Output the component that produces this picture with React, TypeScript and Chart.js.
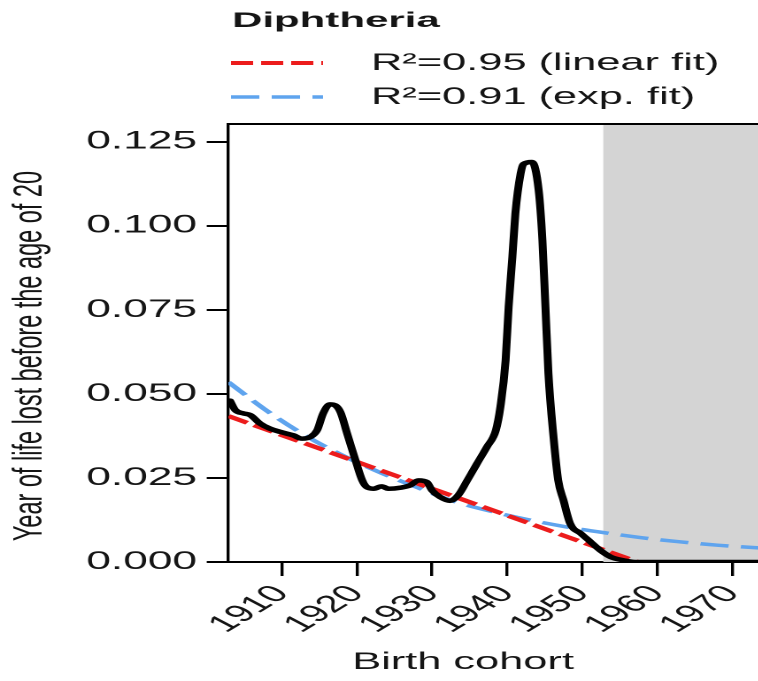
import React, { useEffect, useRef } from 'react';
import { Chart, registerables } from 'chart.js';

Chart.register(...registerables);

// The figure is laid out in a narrow frame and widened horizontally as a whole.
const STRETCH = 1.77;
const VIEW_W = 758;
const VIEW_H = 681;
const FONT = '"Liberation Sans", Arial, Helvetica, sans-serif';
const INK = '#151515';

// horizontal page distance -> canvas units
const hx = (d: number) => d / STRETCH;

// Years of life lost before age 20, by birth cohort
const cohortYears = [
  1903.1, 1903.8, 1904.9, 1905.8, 1907.1, 1908.4, 1909.8, 1911.5, 1912.7, 1913.8,
  1914.7, 1915.5, 1916.4, 1917.1, 1917.8, 1918.7, 1919.8, 1920.7, 1921.3, 1922.2,
  1923.3, 1924.2, 1925.8, 1927.1, 1928.2, 1929.3, 1930.0, 1931.1, 1932.4, 1933.5,
  1934.7, 1936.0, 1937.3, 1938.5, 1939.1, 1939.8, 1940.2, 1940.7, 1941.1, 1941.8,
  1942.2, 1943.3, 1944.2, 1944.7, 1945.1, 1945.5, 1946.2, 1946.8, 1947.5, 1948.4,
  1949.8, 1951.1, 1952.4, 1953.8, 1955.5, 1957.0, 1975.0,
];
const yllValues = [
  0.0480, 0.0452, 0.0442, 0.0437, 0.0412, 0.0397, 0.0387, 0.0377, 0.0367, 0.0372,
  0.0392, 0.0442, 0.0469, 0.0466, 0.0446, 0.0382, 0.0303, 0.0243, 0.0223, 0.0218,
  0.0225, 0.0218, 0.0221, 0.0228, 0.0243, 0.0238, 0.0213, 0.0193, 0.0182, 0.0199,
  0.0243, 0.0293, 0.0342, 0.0392, 0.0461, 0.0600, 0.0759, 0.0908, 0.1037, 0.1156,
  0.1184, 0.1190, 0.1106, 0.0957, 0.0759, 0.0561, 0.0367, 0.0243, 0.0184, 0.0114,
  0.0085, 0.0060, 0.0035, 0.0015, 0.0005, 0.0000, 0.0000,
];

// Linear fit
const linearFitYears = [1902.9, 1957.4];
const linearFitValues = [0.0434, 0.0];

// Exponential fit
const expFitYears = [
  1902.9, 1908, 1913, 1918, 1923, 1928, 1933, 1938, 1943, 1948, 1953, 1958, 1963, 1968, 1975,
];
const expFitValues = [
  0.0535, 0.0450, 0.0378, 0.0318, 0.0267, 0.0222, 0.0180, 0.0150, 0.0125, 0.0104, 0.0087,
  0.0072, 0.0060, 0.0050, 0.0040,
];

const xTickValues = [1910, 1920, 1930, 1940, 1950, 1960, 1970];
const yTickValues = [0, 0.025, 0.05, 0.075, 0.1, 0.125];
const X_MIN = 1902.9;
const X_MAX = 1975;
const Y_MIN = 0;
const Y_MAX = 0.1303;
const shadeStart = 1952.8;

const chartTitle = 'Diphtheria';
const fitLabels = ['R\u00B2=0.95 (linear fit)', 'R\u00B2=0.91 (exp. fit)'];

const RED = '#ec1c1c';
const BLUE = '#5fa4ee';

// frame geometry
const PLOT_TOP = 124;
const PLOT_BOTTOM = 562;
const Y_AXIS_W = hx(228.5);
const CANVAS_W = Math.round(Y_AXIS_W + (X_MAX - X_MIN) * hx(7.5));

const shadePlugin = {
  id: 'cohortShade',
  beforeDatasetsDraw(chart: any) {
    const { ctx, chartArea, scales } = chart;
    const x0 = scales.x.getPixelForValue(shadeStart);
    ctx.save();
    ctx.fillStyle = '#d4d4d4';
    ctx.fillRect(x0, chartArea.top, chartArea.right - x0, chartArea.bottom - chartArea.top);
    ctx.restore();
  },
  afterDatasetsDraw(chart: any) {
    const { ctx, chartArea } = chart;
    ctx.save();
    ctx.strokeStyle = '#000';
    ctx.lineWidth = 2;
    ctx.beginPath();
    ctx.moveTo(chartArea.left - 0.8, chartArea.top);
    ctx.lineTo(chartArea.right, chartArea.top);
    ctx.stroke();
    ctx.restore();
  },
};

const headerPlugin = {
  id: 'fitHeader',
  afterDraw(chart: any) {
    const { ctx } = chart;
    ctx.save();
    ctx.fillStyle = INK;
    ctx.textBaseline = 'alphabetic';
    ctx.textAlign = 'left';

    // panel title, set a little wider than the body text
    ctx.save();
    ctx.translate(hx(232), 27);
    ctx.scale(1.13, 1);
    ctx.font = `bold 21px ${FONT}`;
    ctx.fillText(chartTitle, 0, 0);
    ctx.restore();

    const rows = [
      { ds: chart.data.datasets[1], label: fitLabels[0], y: 63 },
      { ds: chart.data.datasets[2], label: fitLabels[1], y: 97 },
    ];
    rows.forEach((r) => {
      ctx.save();
      ctx.strokeStyle = r.ds.borderColor;
      ctx.lineWidth = r.ds.borderWidth;
      ctx.setLineDash(r.ds.borderDash);
      ctx.beginPath();
      ctx.moveTo(hx(231), r.y);
      ctx.lineTo(hx(323), r.y);
      ctx.stroke();
      ctx.restore();
      ctx.font = `24.5px ${FONT}`;
      ctx.textBaseline = 'middle';
      ctx.fillText(r.label, hx(371), r.y);
    });
    ctx.restore();
  },
};

export default function App() {
  const canvasRef = useRef<HTMLCanvasElement | null>(null);

  useEffect(() => {
    const canvas = canvasRef.current;
    if (!canvas) return;
    const toPoints = (xs: number[], ys: number[]) => xs.map((x, i) => ({ x, y: ys[i] }));

    const chart = new Chart(canvas, {
      type: 'line',
      data: {
        datasets: [
          {
            label: 'Diphtheria',
            data: toPoints(cohortYears, yllValues),
            borderColor: '#000',
            borderWidth: 4.5,
            pointRadius: 0,
            cubicInterpolationMode: 'monotone',
            borderJoinStyle: 'round',
            borderCapStyle: 'round',
          },
          {
            label: fitLabels[0],
            data: toPoints(linearFitYears, linearFitValues),
            borderColor: RED,
            borderWidth: 4,
            borderDash: [12.5, 4.5],
            pointRadius: 0,
          },
          {
            label: fitLabels[1],
            data: toPoints(expFitYears, expFitValues),
            borderColor: BLUE,
            borderWidth: 3.5,
            borderDash: [16, 7],
            pointRadius: 0,
            cubicInterpolationMode: 'monotone',
          },
        ],
      } as any,
      options: {
        animation: false,
        responsive: false,
        devicePixelRatio: 2,
        parsing: false as any,
        layout: { padding: { top: PLOT_TOP, left: 0, right: 0, bottom: 0 } },
        plugins: { legend: { display: false }, tooltip: { enabled: false } },
        scales: {
          x: {
            type: 'linear',
            min: X_MIN,
            max: X_MAX,
            afterBuildTicks: (s: any) => {
              s.ticks = xTickValues.map((value) => ({ value }));
            },
            afterFit: (s: any) => {
              s.height = VIEW_H - PLOT_BOTTOM;
              s.paddingLeft = 0;
              s.paddingRight = 0;
            },
            ticks: {
              autoSkip: false,
              minRotation: 47,
              maxRotation: 47,
              padding: 4,
              color: INK,
              font: { family: FONT, size: 24 },
              callback: (v: any) => String(v),
            },
            grid: { drawOnChartArea: false, drawTicks: true, tickLength: 14, color: '#000', lineWidth: 1.7 },
            border: { display: true, color: '#000', width: 2 },
            title: {
              display: true,
              text: 'Birth cohort      ',
              color: INK,
              font: { family: FONT, size: 24.5 },
              padding: { top: 0, bottom: 4 },
            },
          },
          y: {
            type: 'linear',
            min: Y_MIN,
            max: Y_MAX,
            afterBuildTicks: (s: any) => {
              s.ticks = yTickValues.map((value) => ({ value }));
            },
            afterFit: (s: any) => {
              s.width = Y_AXIS_W;
              s.paddingTop = 0;
              s.paddingBottom = 0;
            },
            ticks: {
              padding: 5.5,
              color: INK,
              font: { family: FONT, size: 25 },
              callback: (v: any) => Number(v).toFixed(3),
            },
            grid: { drawOnChartArea: false, drawTicks: true, tickLength: 12.3, color: '#000', lineWidth: 2 },
            border: { display: true, color: '#000', width: 1.7 },
            title: {
              display: true,
              text: 'Year of life lost before the age of 20    ',
              color: INK,
              font: { family: FONT, size: 23.5 },
              padding: { top: 3, bottom: 0 },
            },
          },
        },
      } as any,
      plugins: [shadePlugin, headerPlugin],
    });

    return () => chart.destroy();
  }, []);

  return (
    <div
      style={{
        position: 'fixed',
        left: 0,
        top: 0,
        width: VIEW_W,
        height: VIEW_H,
        overflow: 'hidden',
        background: '#fff',
      }}
    >
      <div
        style={{
          width: CANVAS_W,
          height: VIEW_H,
          transform: `scaleX(${STRETCH})`,
          transformOrigin: '0 0',
        }}
      >
        <canvas
          ref={canvasRef}
          width={CANVAS_W}
          height={VIEW_H}
          style={{ width: CANVAS_W, height: VIEW_H, display: 'block' }}
        />
      </div>
    </div>
  );
}
